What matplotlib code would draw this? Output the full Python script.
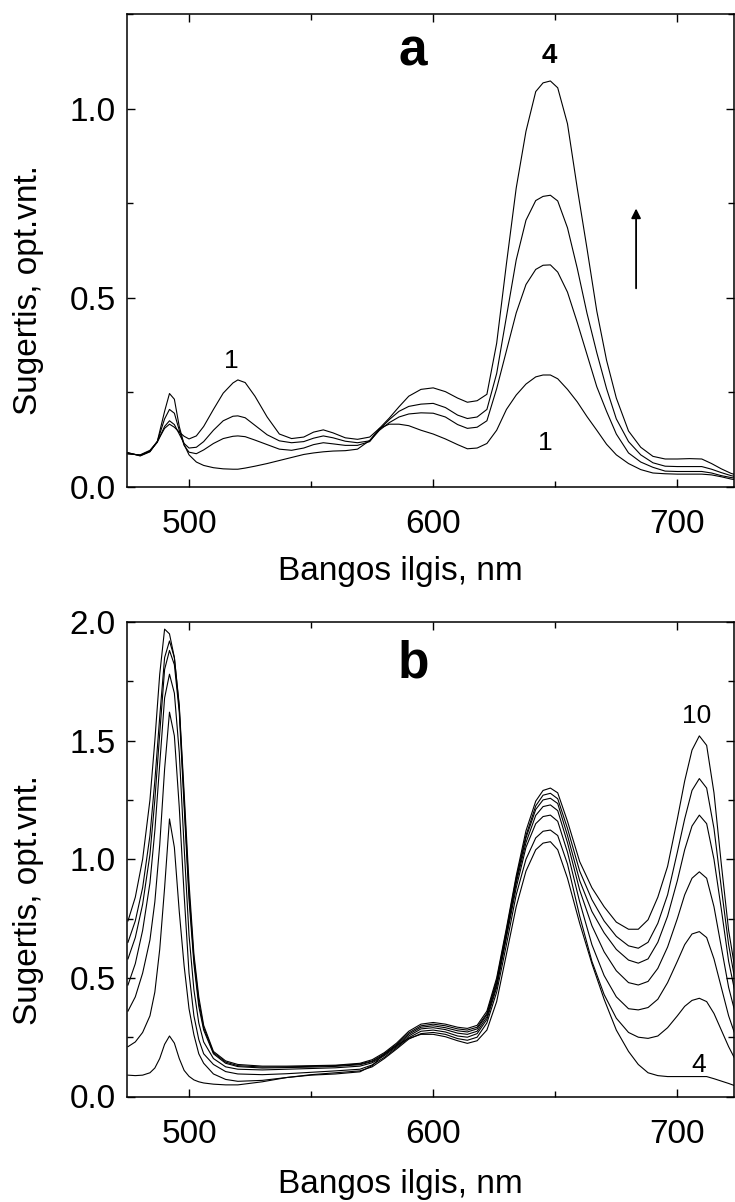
import matplotlib
matplotlib.use('Agg')
import matplotlib.pyplot as plt
from matplotlib.ticker import MultipleLocator, FixedLocator

plt.rcParams['font.family'] = ['Liberation Sans', 'DejaVu Sans']

# ---------------- data: panel a ----------------
wl_a = [475, 480, 484, 487, 490, 492, 494, 496, 498, 500, 503, 506, 510, 514, 518, 520,
        523, 527, 532, 537, 542, 547, 551, 555, 559, 564, 569, 574, 578, 582, 586, 590,
        595, 600, 605, 610, 614, 618, 622, 626, 630, 634, 638, 642, 645, 648, 651, 655,
        659, 663, 667, 671, 675, 680, 685, 690, 695, 700, 705, 710, 714, 718, 722, 725]

a1 = [0.087, 0.085, 0.097, 0.120, 0.155, 0.166, 0.158, 0.145, 0.134, 0.127, 0.135, 0.160,
      0.205, 0.248, 0.275, 0.283, 0.276, 0.240, 0.185, 0.140, 0.128, 0.132, 0.145, 0.151,
      0.143, 0.130, 0.126, 0.132, 0.155, 0.166, 0.166, 0.162, 0.150, 0.140, 0.127, 0.112,
      0.101, 0.103, 0.115, 0.150, 0.205, 0.243, 0.272, 0.291, 0.296, 0.296, 0.286, 0.258,
      0.225, 0.186, 0.150, 0.113, 0.085, 0.062, 0.046, 0.037, 0.035, 0.034, 0.034, 0.034,
      0.032, 0.027, 0.021, 0.018]

a2 = [0.089, 0.084, 0.095, 0.118, 0.160, 0.175, 0.165, 0.140, 0.115, 0.103, 0.105, 0.120,
      0.150, 0.175, 0.187, 0.188, 0.183, 0.163, 0.138, 0.122, 0.117, 0.120, 0.129, 0.135,
      0.130, 0.121, 0.117, 0.122, 0.150, 0.170, 0.185, 0.193, 0.196, 0.195, 0.185, 0.165,
      0.155, 0.158, 0.175, 0.260, 0.360, 0.460, 0.535, 0.575, 0.586, 0.587, 0.568, 0.515,
      0.435, 0.350, 0.265, 0.200, 0.140, 0.090, 0.066, 0.052, 0.042, 0.041, 0.041, 0.041,
      0.037, 0.030, 0.025, 0.022]

a3 = [0.090, 0.083, 0.094, 0.120, 0.180, 0.205, 0.195, 0.150, 0.110, 0.092, 0.088, 0.098,
      0.115, 0.128, 0.134, 0.135, 0.133, 0.124, 0.112, 0.100, 0.097, 0.103, 0.112, 0.117,
      0.114, 0.110, 0.110, 0.120, 0.152, 0.178, 0.200, 0.213, 0.219, 0.221, 0.210, 0.190,
      0.181, 0.185, 0.205, 0.300, 0.450, 0.600, 0.705, 0.757, 0.768, 0.771, 0.756, 0.685,
      0.578, 0.459, 0.355, 0.260, 0.180, 0.120, 0.085, 0.064, 0.055, 0.054, 0.054, 0.054,
      0.047, 0.038, 0.030, 0.026]

a4 = [0.091, 0.082, 0.093, 0.120, 0.200, 0.247, 0.232, 0.160, 0.112, 0.085, 0.066, 0.057,
      0.051, 0.048, 0.047, 0.047, 0.050, 0.055, 0.062, 0.070, 0.078, 0.086, 0.090, 0.093,
      0.095, 0.096, 0.100, 0.123, 0.155, 0.182, 0.212, 0.240, 0.258, 0.262, 0.252, 0.235,
      0.224, 0.228, 0.245, 0.380, 0.590, 0.790, 0.940, 1.045, 1.068, 1.073, 1.055, 0.960,
      0.790, 0.630, 0.465, 0.335, 0.235, 0.148, 0.105, 0.081, 0.074, 0.074, 0.075, 0.074,
      0.062, 0.048, 0.036, 0.030]

# ---------------- data: panel b ----------------
wl_b = [475, 478, 481, 484, 486, 488, 490, 492, 494, 496, 498, 500, 502, 504, 506, 510,
        515, 520, 530, 540, 550, 560, 570, 575, 580, 585, 590, 595, 600, 605, 610, 614,
        618, 622, 626, 630, 634, 638, 642, 645, 648, 651, 655, 660, 665, 670, 675, 680,
        684, 688, 692, 696, 700, 703, 706, 709, 712, 715, 718, 721, 725]

b4 = [0.090, 0.088, 0.090, 0.100, 0.120, 0.160, 0.220, 0.255, 0.225, 0.160, 0.110, 0.085,
      0.070, 0.062, 0.057, 0.052, 0.049, 0.049, 0.062, 0.080, 0.090, 0.095, 0.104, 0.130,
      0.180, 0.215, 0.245, 0.262, 0.262, 0.252, 0.235, 0.224, 0.235, 0.280, 0.400, 0.600,
      0.800, 0.950, 1.040, 1.068, 1.074, 1.040, 0.920, 0.730, 0.560, 0.410, 0.280, 0.190,
      0.135, 0.100, 0.088, 0.084, 0.084, 0.084, 0.084, 0.084, 0.084, 0.075, 0.065, 0.055,
      0.040]

b5 = [0.210, 0.230, 0.270, 0.340, 0.440, 0.620, 0.880, 1.170, 1.050, 0.780, 0.550, 0.370,
      0.260, 0.180, 0.140, 0.095, 0.072, 0.064, 0.068, 0.080, 0.092, 0.100, 0.108, 0.125,
      0.160, 0.200, 0.242, 0.265, 0.270, 0.262, 0.244, 0.237, 0.250, 0.310, 0.440, 0.640,
      0.850, 1.000, 1.090, 1.118, 1.123, 1.100, 0.980, 0.760, 0.570, 0.430, 0.330, 0.270,
      0.250, 0.245, 0.255, 0.290, 0.340, 0.380, 0.405, 0.414, 0.400, 0.350, 0.280, 0.210,
      0.130]

b6 = [0.360, 0.420, 0.520, 0.660, 0.820, 1.060, 1.380, 1.620, 1.520, 1.220, 0.850, 0.520,
      0.340, 0.240, 0.180, 0.135, 0.105, 0.095, 0.092, 0.096, 0.102, 0.108, 0.115, 0.133,
      0.165, 0.205, 0.248, 0.275, 0.280, 0.272, 0.255, 0.250, 0.265, 0.325, 0.460, 0.670,
      0.880, 1.050, 1.150, 1.180, 1.186, 1.160, 1.030, 0.820, 0.640, 0.510, 0.420, 0.370,
      0.365, 0.375, 0.410, 0.480, 0.570, 0.640, 0.685, 0.695, 0.670, 0.580, 0.460, 0.340,
      0.220]

b7 = [0.470, 0.560, 0.700, 0.900, 1.120, 1.400, 1.680, 1.780, 1.700, 1.450, 1.050, 0.680,
      0.450, 0.310, 0.230, 0.160, 0.125, 0.115, 0.112, 0.115, 0.118, 0.121, 0.128, 0.142,
      0.172, 0.210, 0.255, 0.285, 0.290, 0.282, 0.267, 0.262, 0.275, 0.335, 0.470, 0.680,
      0.900, 1.070, 1.185, 1.222, 1.229, 1.205, 1.070, 0.870, 0.720, 0.610, 0.530, 0.480,
      0.470, 0.485, 0.540, 0.630, 0.750, 0.850, 0.920, 0.947, 0.920, 0.800, 0.630, 0.460,
      0.300]

b8 = [0.580, 0.670, 0.810, 1.020, 1.250, 1.530, 1.800, 1.880, 1.820, 1.620, 1.220, 0.830,
      0.560, 0.380, 0.280, 0.180, 0.140, 0.126, 0.120, 0.122, 0.124, 0.127, 0.134, 0.147,
      0.176, 0.215, 0.262, 0.292, 0.298, 0.290, 0.277, 0.272, 0.285, 0.345, 0.480, 0.690,
      0.910, 1.090, 1.210, 1.250, 1.257, 1.235, 1.100, 0.910, 0.780, 0.690, 0.620, 0.575,
      0.562, 0.580, 0.650, 0.760, 0.910, 1.040, 1.140, 1.186, 1.150, 1.000, 0.790, 0.570,
      0.370]

b9 = [0.650, 0.740, 0.880, 1.100, 1.330, 1.600, 1.850, 1.920, 1.850, 1.640, 1.250, 0.860,
      0.580, 0.400, 0.290, 0.185, 0.145, 0.130, 0.124, 0.125, 0.127, 0.130, 0.137, 0.150,
      0.180, 0.220, 0.268, 0.298, 0.305, 0.298, 0.285, 0.280, 0.292, 0.350, 0.490, 0.700,
      0.920, 1.100, 1.225, 1.270, 1.278, 1.255, 1.130, 0.950, 0.830, 0.740, 0.675, 0.635,
      0.625, 0.650, 0.730, 0.850, 1.030, 1.170, 1.290, 1.340, 1.300, 1.130, 0.880, 0.640,
      0.410]

b10 = [0.740, 0.840, 1.000, 1.250, 1.500, 1.780, 1.970, 1.950, 1.850, 1.650, 1.280, 0.900,
       0.600, 0.420, 0.300, 0.190, 0.150, 0.135, 0.128, 0.128, 0.130, 0.132, 0.140, 0.155,
       0.185, 0.225, 0.275, 0.305, 0.312, 0.305, 0.292, 0.287, 0.300, 0.360, 0.500, 0.710,
       0.930, 1.120, 1.245, 1.290, 1.300, 1.280, 1.160, 0.990, 0.880, 0.800, 0.735, 0.705,
       0.705, 0.745, 0.840, 0.970, 1.170, 1.330, 1.460, 1.520, 1.480, 1.280, 0.980, 0.700,
       0.450]

series_a = [a1, a2, a3, a4]
series_b = [b4, b5, b6, b7, b8, b9, b10]

xticks_major = [500, 600, 700]
xticks_minor = [550, 650]
yticks_a = [0.0, 0.5, 1.0]
yticks_b = [0.0, 0.5, 1.0, 1.5, 2.0]

xlabel = "Bangos ilgis, nm"
ylabel = "Sugertis, opt.vnt."

# ---------------- layout ----------------
W, H = 735, 1202
fig = plt.figure(figsize=(W / 100, H / 100), dpi=100)


def rect(l, t, r, b):
    return [l / W, 1 - b / H, (r - l) / W, (b - t) / H]


def fpos(x, y):
    return x / W, 1 - y / H


axA = fig.add_axes(rect(127, 14, 734, 487))
axB = fig.add_axes(rect(127, 622, 734, 1096.5))

for ax, wl, ser, ylim, yt in [(axA, wl_a, series_a, (0, 1.25), yticks_a),
                              (axB, wl_b, series_b, (0, 2.0), yticks_b)]:
    for s in ser:
        ax.plot(wl, s, color='black', lw=0.8)
    ax.set_xlim(474.6, 723.2)
    ax.set_ylim(*ylim)
    ax.xaxis.set_major_locator(FixedLocator(xticks_major))
    ax.xaxis.set_minor_locator(FixedLocator(xticks_minor))
    ax.yaxis.set_major_locator(FixedLocator(yt))
    ax.yaxis.set_minor_locator(MultipleLocator(0.25))
    ax.set_yticklabels([f"{v:.1f}" for v in yt])
    ax.set_xticklabels([str(v) for v in xticks_major])
    ax.tick_params(which='both', direction='in', top=True, right=True,
                   width=1.0, labelsize=24)
    ax.tick_params(which='major', length=5.5)
    ax.tick_params(which='minor', length=4)
    ax.tick_params(axis='x', pad=16)
    ax.tick_params(axis='y', pad=8)
    for sp in ax.spines.values():
        sp.set_linewidth(1.1)

# axis labels
fig.text(*fpos(400, 580), xlabel, fontsize=24, ha='center', va='baseline')
fig.text(*fpos(400, 1193), xlabel, fontsize=24, ha='center', va='baseline')
fig.text(*fpos(28, 290), ylabel, fontsize=24, ha='center', va='center', rotation=90)
fig.text(*fpos(28, 900), ylabel, fontsize=24, ha='center', va='center', rotation=90)

# panel letters and curve labels
axA.text(591.7, 1.1126, "a", fontsize=37, fontweight='bold', ha='center', va='baseline')
axB.text(591.7, 1.7640, "b", fontsize=37, fontweight='bold', ha='center', va='baseline')
axA.text(647.7, 1.1205, "4", fontsize=20, fontweight='bold', ha='center', va='baseline')
axA.text(517.2, 0.3145, "1", fontsize=19, ha='center', va='baseline')
axA.text(646.1, 0.0978, "1", fontsize=19, ha='center', va='baseline')
axB.text(707.7, 1.574, "10", fontsize=19, ha='center', va='baseline')
axB.text(708.7, 0.1045, "4", fontsize=19, ha='center', va='baseline')

axA.annotate("", xy=(683.1, 0.736), xytext=(683.1, 0.525),
             arrowprops=dict(arrowstyle='-|>', color='black', lw=1.3,
                             mutation_scale=14, shrinkA=0, shrinkB=0))

fig.savefig("out.png", dpi=100)
